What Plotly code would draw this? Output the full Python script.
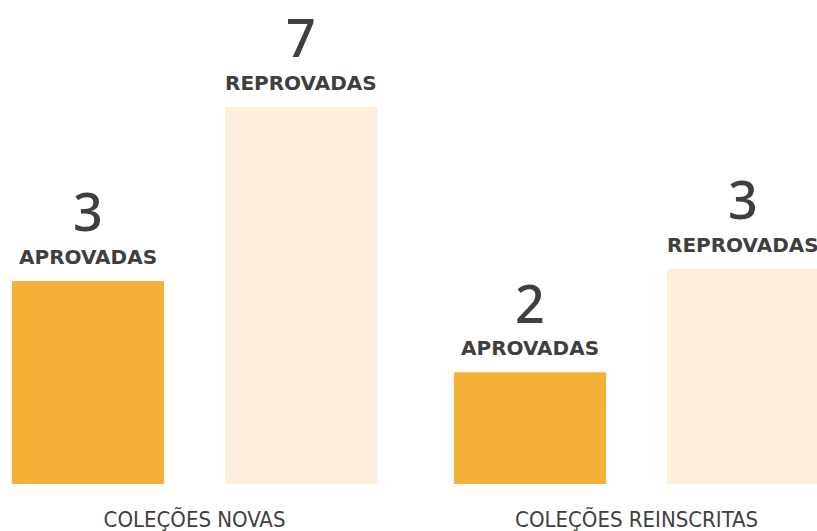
import plotly.graph_objects as go

categories = ["COLEÇÕES NOVAS", "COLEÇÕES REINSCRITAS"]
series_names = ["APROVADAS", "REPROVADAS"]
# counts shown as labels
aprovadas_counts = [3, 2]
reprovadas_counts = [7, 3]
# visual bar heights as drawn in the infographic (not proportional to counts)
aprovadas_heights = [3.0, 1.65]
reprovadas_heights = [5.57, 3.18]

colors = ["#F5B038", "#FEEFDA"]
text_color = "#3f3f3f"

fig = go.Figure()
fig.add_trace(go.Bar(x=categories, y=aprovadas_heights, name=series_names[0],
                     marker=dict(color=colors[0], line=dict(width=0)), hoverinfo="skip"))
fig.add_trace(go.Bar(x=categories, y=reprovadas_heights, name=series_names[1],
                     marker=dict(color=colors[1], line=dict(width=0)), hoverinfo="skip"))

offsets = [-106.5, 106.5]
for s_idx, (counts, heights) in enumerate([(aprovadas_counts, aprovadas_heights),
                                            (reprovadas_counts, reprovadas_heights)]):
    for c_idx, cat in enumerate(categories):
        fig.add_annotation(x=cat, y=heights[c_idx], text=str(counts[c_idx]),
                           showarrow=False, xshift=offsets[s_idx], yshift=70,
                           font=dict(family="Noto Sans", size=52, color=text_color, weight=500),
                           xanchor="center", yanchor="middle")
        fig.add_annotation(x=cat, y=heights[c_idx], text=series_names[s_idx],
                           showarrow=False, xshift=offsets[s_idx], yshift=24,
                           font=dict(family="DejaVu Sans", size=20, color=text_color, weight="bold"),
                           xanchor="center", yanchor="middle")

fig.update_layout(
    width=817, height=531,
    margin=dict(l=0, r=0, t=0, b=47),
    paper_bgcolor="white", plot_bgcolor="white",
    barmode="group", bargap=0.036, bargroupgap=0.286,
    showlegend=False,
    xaxis=dict(range=[-0.44, 1.408], showgrid=False, zeroline=False, showline=False,
               ticks="", ticklabelstandoff=20,
               tickfont=dict(family="DejaVu Sans Condensed", size=22, color=text_color)),
    yaxis=dict(range=[0, 7.15], visible=False, showgrid=False, zeroline=False),
)

fig.write_html("out.html", config={"displayModeBar": False},
               post_script="document.body.style.margin='0';document.body.style.overflow='hidden';")
